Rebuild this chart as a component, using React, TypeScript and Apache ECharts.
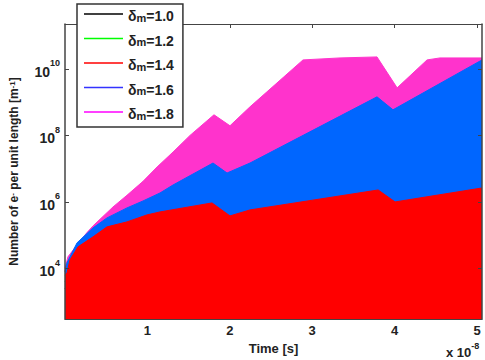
import React, { useEffect, useRef } from "react";
import * as echarts from "echarts";

// time in units of 1e-8 s ; values are log10(number of e- per unit length [m^-1])
const time10 = [0, 0.2, 1.0, 2.0, 3.0, 4.0, 5.06];
const logN10 = [3.4, 3.9, 4.3, 4.4, 4.5, 4.5, 4.6];

const time12 = [0, 0.1, 0.4, 1.0, 1.8, 2.0, 3.8, 4.0, 5.06];
const logN12 = [3.6, 4.0, 4.5, 4.9, 5.2, 4.95, 5.4, 5.15, 5.5];

const time14 = [0, 0.024, 0.061, 0.158, 0.34, 0.51, 0.752, 0.995, 1.153, 1.784, 2.002, 2.245, 3.8, 4.005, 5.06];
const logN14 = [3.8, 3.87, 4.26, 4.65, 4.95, 5.25, 5.4, 5.61, 5.7, 5.97, 5.58, 5.76, 6.36, 6.0, 6.42];

const time16 = [0, 0.024, 0.146, 0.34, 0.51, 0.752, 0.947, 1.153, 1.311, 1.796, 1.966, 2.245, 3.786, 3.98, 5.06];
const logN16 = [3.9, 4.17, 4.77, 5.22, 5.52, 5.82, 6.03, 6.27, 6.51, 7.17, 6.87, 7.17, 9.16, 8.77, 10.27];

const time18 = [0, 0.036, 0.146, 0.267, 0.34, 0.425, 0.583, 0.752, 0.947, 1.117, 1.311, 1.517, 1.808, 2.002, 2.245, 2.888, 3.337, 3.786, 4.03, 4.393, 4.55, 5.06];
const logN18 = [4.0, 4.35, 4.71, 5.08, 5.28, 5.48, 5.85, 6.2, 6.62, 7.05, 7.5, 8.0, 8.62, 8.29, 8.86, 10.27, 10.33, 10.36, 9.43, 10.27, 10.33, 10.33];

const deltaNames = ["1.0", "1.2", "1.4", "1.6", "1.8"];
const yTickExponents = [4, 6, 8, 10];
const xTicks = [1, 2, 3, 4, 5];

const FONT = "'Liberation Sans', Arial, Helvetica, sans-serif";

export default function App() {
  const ref = useRef<HTMLDivElement>(null);

  useEffect(() => {
    if (!ref.current) return;
    const chart = echarts.init(ref.current, null, { renderer: "svg" });

    const mk = (t: number[], v: number[]) => t.map((x, i) => [x, v[i]]);

    const areaSeries = (name: string, t: number[], v: number[], fill: string, z: number) => ({
      name,
      type: "line",
      data: mk(t, v),
      symbol: "none",
      z,
      lineStyle: { color: fill, width: 1 },
      itemStyle: { color: fill },
      areaStyle: { color: fill, opacity: 1, origin: "start" },
      emphasis: { disabled: true },
    });

    const legendColors: Record<string, string> = {
      "1.0": "#000000",
      "1.2": "#00ff00",
      "1.4": "#ff0000",
      "1.6": "#3333ff",
      "1.8": "#ff00ff",
    };

    const yMin = 2.48;
    const yMax = 11.35;
    const xMin = 0;
    const xMax = 5.06;

    const supRich = {
      b: { fontFamily: FONT, fontWeight: "bold", fontSize: 14, color: "#222", lineHeight: 20, verticalAlign: "bottom" },
      sup: { fontFamily: FONT, fontWeight: "bold", fontSize: 9, color: "#222", lineHeight: 12, verticalAlign: "top" },
    };

    const option: any = {
      animation: false,
      grid: { left: 65, right: 3, top: 24, bottom: 41, containLabel: false },
      legend: {
        data: deltaNames.map((n) => ({
          name: n,
          icon: "rect",
          itemStyle: { color: legendColors[n], borderWidth: 0 },
        })),
        orient: "vertical",
        left: 77,
        top: 4,
        padding: [5, 9, 6, 7],
        itemGap: 10.5,
        itemWidth: 39,
        itemHeight: 1.5,
        backgroundColor: "#ffffff",
        borderColor: "#333333",
        borderWidth: 1.5,
        z: 20,
        selectedMode: false,
        formatter: (name: string) => `{d|δ}{sub|m}{d|=${name}}`,
        textStyle: {
          fontFamily: FONT,
          fontWeight: "bold",
          fontSize: 14,
          color: "#222",
          rich: {
            d: { fontFamily: FONT, fontWeight: "bold", fontSize: 14, color: "#222", lineHeight: 18, verticalAlign: "bottom" },
            sub: { fontFamily: FONT, fontWeight: "bold", fontSize: 11, color: "#222", lineHeight: 11, verticalAlign: "bottom" },
          },
        },
      },
      xAxis: [
        {
          type: "value",
          min: xMin,
          max: xMax,
          position: "bottom",
          z: 10,
          splitLine: { show: false },
          axisLine: { show: true, lineStyle: { color: "#444", width: 1.2 } },
          axisTick: { show: false, inside: true, customValues: xTicks },
          axisLabel: {
            customValues: xTicks,
            margin: 5,
            fontFamily: FONT,
            fontWeight: "bold",
            fontSize: 13,
            color: "#222",
            formatter: (v: number) => String(v),
          },
          name: "Time [s]",
          nameLocation: "middle",
          nameGap: 17,
          nameTextStyle: { fontFamily: FONT, fontWeight: "bold", fontSize: 13, color: "#222" },
        },
        {
          type: "value",
          min: xMin,
          max: xMax,
          position: "top",
          z: 10,
          splitLine: { show: false },
          axisLine: { show: true, onZero: false, lineStyle: { color: "#444", width: 1.2 } },
          axisTick: { show: true, inside: true, length: 4, customValues: xTicks, lineStyle: { color: "#444" } },
          axisLabel: { show: false },
        },
      ],
      yAxis: [
        {
          type: "value",
          min: yMin,
          max: yMax,
          position: "left",
          z: 10,
          splitLine: { show: false },
          axisLine: { show: true, onZero: false, lineStyle: { color: "#444", width: 1.5 } },
          axisTick: { show: true, inside: true, length: 4, customValues: yTickExponents, lineStyle: { color: "#444" } },
          axisLabel: {
            customValues: yTickExponents,
            margin: 5,
            formatter: (v: number) => `{b|10}{sup|${Math.round(v)}}`,
            rich: supRich,
          },
          name: "Number of e{s|-} per unit length [m{s|-1}]",
          nameLocation: "middle",
          nameRotate: 90,
          nameGap: 45,
          nameTextStyle: {
            fontFamily: FONT,
            fontWeight: "bold",
            fontSize: 12,
            color: "#222",
            rich: {
              s: { fontFamily: FONT, fontWeight: "bold", fontSize: 8, color: "#222", lineHeight: 8, verticalAlign: "top" },
            },
          },
        },
        {
          type: "value",
          min: yMin,
          max: yMax,
          position: "right",
          z: 10,
          splitLine: { show: false },
          axisLine: { show: true, onZero: false, lineStyle: { color: "#444", width: 1.5 } },
          axisTick: { show: true, inside: true, length: 4, customValues: yTickExponents, lineStyle: { color: "#444" } },
          axisLabel: { show: false },
        },
      ],
      series: [
        areaSeries("1.0", time10, logN10, "#000000", 1),
        areaSeries("1.2", time12, logN12, "#00ff00", 2),
        areaSeries("1.8", time18, logN18, "#ff33cc", 3),
        areaSeries("1.6", time16, logN16, "#0066ff", 4),
        areaSeries("1.4", time14, logN14, "#ff0000", 5),
      ],
      graphic: [
        {
          type: "text",
          left: 446,
          top: 341,
          z: 10,
          style: {
            text: "{b|x 10}{sup|-8}",
            rich: {
              b: { fontFamily: FONT, fontWeight: "bold", fontSize: 13, fill: "#222", lineHeight: 18, verticalAlign: "bottom" },
              sup: { fontFamily: FONT, fontWeight: "bold", fontSize: 9, fill: "#222", lineHeight: 10, verticalAlign: "top" },
            },
          },
        },
      ],
    };

    chart.setOption(option);
    return () => chart.dispose();
  }, []);

  return <div ref={ref} style={{ width: 485, height: 360, position: "absolute", left: 0, top: 0 }} />;
}
